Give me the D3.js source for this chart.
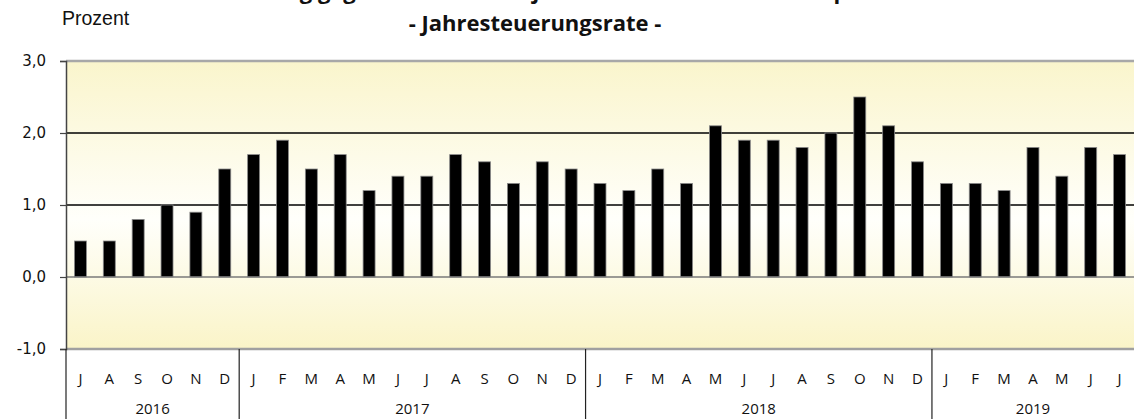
<!DOCTYPE html>
<html><head><meta charset="utf-8">
<script src="https://cdn.jsdelivr.net/npm/d3@7"></script>
<style>body{margin:0;background:#fff}svg{display:block}</style>
</head><body><svg id="c" width="1135" height="419"></svg>
<script>
const months = ["J","A","S","O","N","D",
  "J","F","M","A","M","J","J","A","S","O","N","D",
  "J","F","M","A","M","J","J","A","S","O","N","D",
  "J","F","M","A","M","J","J"];
const years = ["2016","2017","2018","2019"];
const yearCounts = [6,12,12,7];
const values = [0.5,0.5,0.8,1.0,0.9,1.5,
  1.7,1.9,1.5,1.7,1.2,1.4,1.4,1.7,1.6,1.3,1.6,1.5,
  1.3,1.2,1.5,1.3,2.1,1.9,1.9,1.8,2.0,2.5,2.1,1.6,
  1.3,1.3,1.2,1.8,1.4,1.8,1.7];
const yTicks = [-1,0,1,2,3];
const title1 = "Veränderung gegenüber dem Vorjahresmonat – Verbraucherpreise";
const title2 = "- Jahresteuerungsrate -";
const unitLabel = "Prozent";

const svg = d3.select("#c");
const L = 66, R = 1134, T = 61, B = 349;
const idx = d3.range(values.length);
const x = d3.scaleBand().domain(idx).range([L, R]).paddingInner(0.585).paddingOuter(0.2925);
const y = d3.scaleLinear().domain([-1, 3]).range([B, T]);

const defs = svg.append("defs");
const g = defs.append("linearGradient").attr("id","bg").attr("x1",0).attr("y1",0).attr("x2",0).attr("y2",1);
g.append("stop").attr("offset","0%").attr("stop-color","#faf5cc");
g.append("stop").attr("offset","55%").attr("stop-color","#fffffb");
g.append("stop").attr("offset","100%").attr("stop-color","#faf4c8");

svg.append("rect").attr("x",L).attr("y",T).attr("width",R-L).attr("height",B-T).attr("fill","url(#bg)");

// gridlines
svg.append("g").selectAll("line").data([1,2]).join("line")
  .attr("x1",L).attr("x2",R).attr("y1",d=>y(d)).attr("y2",d=>y(d))
  .attr("stroke","#000").attr("stroke-width",1.3);

// bars
svg.append("g").selectAll("rect").data(values).join("rect")
  .attr("x",(d,i)=>x(i)).attr("width",x.bandwidth())
  .attr("y",d=>y(Math.max(0,d))).attr("height",d=>Math.abs(y(d)-y(0)))
  .attr("fill","#000").attr("stroke","#8a8a8a").attr("stroke-width",0.8);

// zero line
svg.append("line").attr("x1",L).attr("x2",R).attr("y1",y(0)).attr("y2",y(0)).attr("stroke","#7a7a7a").attr("stroke-width",1.5);
// top & bottom border
svg.append("line").attr("x1",L).attr("x2",R).attr("y1",T).attr("y2",T).attr("stroke","#a8a8a8").attr("stroke-width",2.5);
svg.append("line").attr("x1",L).attr("x2",R).attr("y1",B).attr("y2",B).attr("stroke","#a0a0a0").attr("stroke-width",2.5);

// y axis
const yAxis = d3.axisLeft(y).tickValues(yTicks).tickSize(6).tickPadding(14)
  .tickFormat(d=>d3.format(".1f")(d).replace(".",",").replace("\u2212","-"));
const ya = svg.append("g").attr("transform",`translate(${L},0)`).call(yAxis);
ya.select(".domain").attr("stroke","#444").attr("stroke-width",1.5);
ya.selectAll(".tick line").attr("stroke","#444").attr("stroke-width",1.2);
ya.selectAll("text").attr("font-family","DejaVu Sans").attr("font-size",15).attr("fill","#111");

// left axis extension into label area
svg.append("line").attr("x1",L).attr("x2",L).attr("y1",B).attr("y2",419).attr("stroke","#222").attr("stroke-width",1.2);

// month labels
svg.append("g").selectAll("text").data(months).join("text")
  .attr("x",(d,i)=>x(i)+x.bandwidth()/2).attr("y",384)
  .attr("text-anchor","middle").attr("font-family","Open Sans").attr("font-size",15).attr("fill","#111")
  .text(d=>d);

// year separators and labels
const starts = []; let acc = 0;
yearCounts.forEach(c=>{starts.push(acc); acc+=c;});
const stepW = x.step();
svg.append("g").selectAll("line").data(starts.slice(1)).join("line")
  .attr("x1",d=>x(d)-(stepW-x.bandwidth())/2).attr("x2",d=>x(d)-(stepW-x.bandwidth())/2)
  .attr("y1",B).attr("y2",419).attr("stroke","#222").attr("stroke-width",1.2);
svg.append("g").selectAll("text").data(years).join("text")
  .attr("x",(d,i)=>{const a=x(starts[i])-(stepW-x.bandwidth())/2; const b=a+yearCounts[i]*stepW; return (a+b)/2;})
  .attr("y",414).attr("text-anchor","middle").attr("font-family","Open Sans").attr("font-size",15).attr("fill","#111")
  .text(d=>d);

// titles
svg.append("text").attr("x",535).attr("y",-1).attr("text-anchor","middle")
  .attr("font-family","Open Sans").attr("font-weight","bold").attr("font-size",22).attr("fill","#111").text(title1);
svg.append("text").attr("x",535).attr("y",31).attr("text-anchor","middle")
  .attr("font-family","Open Sans").attr("font-weight","bold").attr("font-size",22).attr("fill","#111").text(title2);
svg.append("text").attr("x",62).attr("y",25)
  .attr("font-family","Liberation Sans").attr("font-size",19.5).attr("fill","#111").text(unitLabel);
</script></body></html>
